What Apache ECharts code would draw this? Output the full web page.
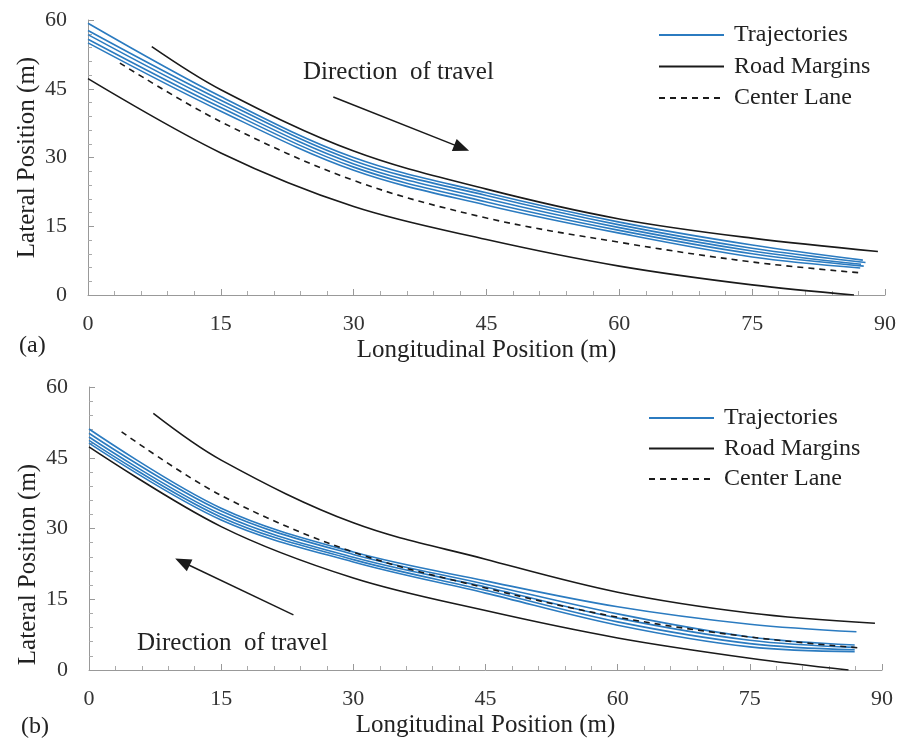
<!DOCTYPE html>
<html>
<head>
<meta charset="utf-8">
<script src="https://cdn.jsdelivr.net/npm/echarts@6/dist/echarts.min.js"></script>
<style>
  html, body { margin: 0; padding: 0; background: #fff; }
  #chart { width: 900px; height: 749px; }
</style>
</head>
<body>
<div id="chart"></div>
<script>
// axis ticks (m)
const xTicks = [0, 15, 30, 45, 60, 75, 90];
const yTicks = [0, 15, 30, 45, 60];

// (a), [longitudinal, lateral]
const upperMarginA = [[7.2, 54.2], [15, 44.8], [30, 31.4], [45, 23.1], [60, 16.6], [75, 12.4], [89.2, 9.5]];
const lowerMarginA = [[0, 47.2], [15, 31.0], [30, 19.3], [45, 12.1], [60, 6.3], [75, 2.2], [86.5, 0]];
const centerLaneA = [[3.6, 50.6], [15, 37.8], [30, 25.0], [45, 16.8], [60, 11.5], [75, 7.2], [87.4, 4.8]];
const trajA1 = [[0, 59.3], [15, 43.3], [30, 30.0], [45, 22.3], [60, 15.9], [75, 10.9], [87.5, 7.6]];
const trajA2 = [[0, 57.7], [15, 42.5], [30, 29.3], [45, 21.7], [60, 15.3], [75, 10.2], [87.8, 7.1]];
const trajA3 = [[0, 56.8], [15, 41.7], [30, 28.6], [45, 21.0], [60, 14.7], [75, 9.6], [87.3, 6.7]];
const trajA4 = [[0, 55.8], [15, 40.9], [30, 27.9], [45, 20.3], [60, 14.1], [75, 9.0], [87.6, 6.3]];
const trajA5 = [[0, 55.0], [15, 40.1], [30, 27.2], [45, 19.6], [60, 13.5], [75, 8.3], [87.2, 5.9]];
const arrowA = [[27.7, 43.2], [42.2, 32.1]];

// (b) lower panel
const upperMarginB = [[7.3, 54.4], [15, 44.5], [30, 31.2], [45, 23.5], [60, 16.5], [75, 12.1], [89.2, 9.9]];
const lowerMarginB = [[0, 47.3], [15, 30.4], [30, 19.5], [45, 12.6], [60, 6.8], [75, 2.5], [86.2, 0]];
const centerLaneB = [[3.7, 50.5], [15, 37.0], [30, 25.0], [45, 17.4], [60, 11.2], [75, 7.0], [87.4, 4.7]];
const trajB1 = [[0, 51.1], [15, 34.3], [30, 25.0], [45, 18.9], [60, 13.4], [75, 9.7], [87.1, 8.1]];
const trajB2 = [[0, 50.2], [15, 33.7], [30, 24.5], [45, 18.2], [60, 11.9], [75, 7.0], [86.9, 5.3]];
const trajB3 = [[0, 49.4], [15, 33.0], [30, 23.9], [45, 17.6], [60, 11.0], [75, 6.3], [86.9, 4.8]];
const trajB4 = [[0, 48.7], [15, 32.4], [30, 23.4], [45, 16.9], [60, 10.2], [75, 5.6], [86.9, 4.3]];
const trajB5 = [[0, 48.1], [15, 31.8], [30, 22.9], [45, 16.3], [60, 9.5], [75, 4.9], [86.9, 3.9]];
const arrowB = [[23.2, 11.7], [10.6, 22.9]];

const FONT = 'Liberation Serif';
const BLUE = '#2b7bc0';
const INK = '#1a1a1a';

function xAxisCfg(idx) {
    return {
        gridIndex: idx, type: 'value', min: xTicks[0], max: xTicks[xTicks.length - 1], interval: 15,
        name: 'Longitudinal Position (m)', nameLocation: 'middle', nameGap: 43, nameMoveOverlap: false,
        nameTextStyle: { fontFamily: FONT, fontSize: 25, color: '#222' },
        axisLine: { lineStyle: { color: '#999', width: 1 } },
        axisTick: { inside: true, length: 6, lineStyle: { color: '#999' } },
        minorTick: { show: true, splitNumber: 5, length: 4, lineStyle: { color: '#aaa' } },
        axisLabel: { margin: 18, fontFamily: FONT, fontSize: 22, color: '#333' },
        splitLine: { show: false }
    };
}
function yAxisCfg(idx, shift) {
    return {
        gridIndex: idx, type: 'value', min: yTicks[0], max: yTicks[yTicks.length - 1], interval: 15,
        name: 'Lateral Position (m)', nameLocation: 'middle', nameGap: 48, nameMoveOverlap: false,
        nameTextStyle: { fontFamily: FONT, fontSize: 25, color: '#222', padding: [0, shift, 0, 0] },
        axisLine: { show: true, lineStyle: { color: '#999', width: 1 } },
        axisTick: { inside: true, length: 6, lineStyle: { color: '#999' } },
        minorTick: { show: true, splitNumber: 5, length: 4, lineStyle: { color: '#aaa' } },
        axisLabel: { margin: 21, fontFamily: FONT, fontSize: 22, color: '#333' },
        splitLine: { show: false }
    };
}

function curve(name, data, idx, style) {
    return {
        name: name, type: 'line', xAxisIndex: idx, yAxisIndex: idx,
        data: data, smooth: 0.35, symbol: 'none', silent: true,
        itemStyle: { color: style.color },
        lineStyle: style
    };
}
const trajStyle = { color: BLUE, width: 1.6 };
const marginStyle = { color: INK, width: 1.6 };
const centerStyle = { color: INK, width: 1.6, type: [6, 5] };

function arrowMark(pts) {
    return {
        silent: true,
        symbol: ['none', 'triangle'],
        symbolSize: [13, 16],
        label: { show: false },
        emphasis: { disabled: true },
        itemStyle: { color: INK },
        lineStyle: { color: INK, width: 1.5, type: 'solid' },
        data: [[{ coord: pts[0] }, { coord: pts[1] }]]
    };
}

const series = [];
[[trajA1, trajA2, trajA3, trajA4, trajA5], [trajB1, trajB2, trajB3, trajB4, trajB5]].forEach(function (set, idx) {
    set.forEach(function (d) { series.push(curve('Trajectories', d, idx, trajStyle)); });
});
series.push(curve('Road Margins', upperMarginA, 0, marginStyle));
series.push(curve('Road Margins', lowerMarginA, 0, marginStyle));
series.push(curve('Road Margins', upperMarginB, 1, marginStyle));
series.push(curve('Road Margins', lowerMarginB, 1, marginStyle));
const cA = curve('Center Lane', centerLaneA, 0, centerStyle);
cA.markLine = arrowMark(arrowA);
const cB = curve('Center Lane', centerLaneB, 1, centerStyle);
cB.markLine = arrowMark(arrowB);
series.push(cA, cB);

function legendCfg(left, top, gap) {
    return {
        orient: 'vertical', left: left, top: top, padding: 0,
        data: ['Trajectories', 'Road Margins', 'Center Lane'],
        itemWidth: 65, itemHeight: 14, itemGap: gap,
        selectedMode: false,
        itemStyle: { opacity: 0 },
        textStyle: { fontFamily: FONT, fontSize: 24, color: '#222', lineHeight: 24, padding: [0, 0, 0, 5] }
    };
}

const chart = echarts.init(document.getElementById('chart'), null, { renderer: 'canvas' });
chart.setOption({
    animation: false,
    backgroundColor: '#fff',
    grid: [
        { left: 88, top: 20, width: 797, height: 275 },
        { left: 89, top: 387, width: 793, height: 283 }
    ],
    xAxis: [xAxisCfg(0), xAxisCfg(1)],
    yAxis: [yAxisCfg(0, 0), yAxisCfg(1, 72)],
    legend: [legendCfg(658, 23, 7.5), legendCfg(648, 406, 6.5)],
    graphic: [
        { type: 'text', left: 303, top: 60, style: { text: 'Direction  of travel', font: '25px "Liberation Serif"', fill: '#222' } },
        { type: 'text', left: 137, top: 631, style: { text: 'Direction  of travel', font: '25px "Liberation Serif"', fill: '#222' } },
        { type: 'text', left: 19, top: 334, style: { text: '(a)', font: '24px "Liberation Serif"', fill: '#222' } },
        { type: 'text', left: 21, top: 715, style: { text: '(b)', font: '24px "Liberation Serif"', fill: '#222' } }
    ],
    series: series
});
</script>
</body>
</html>
